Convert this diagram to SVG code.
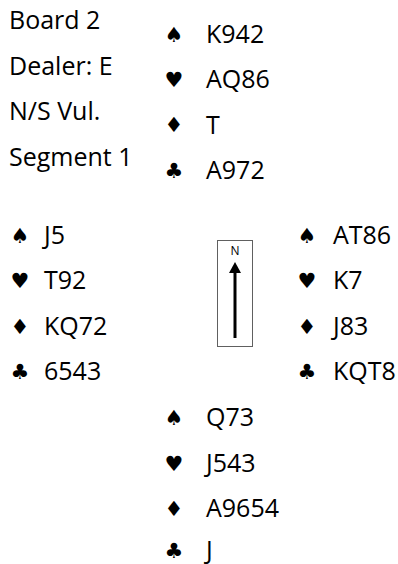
<svg xmlns="http://www.w3.org/2000/svg" width="398" height="564" viewBox="0 0 398 564">
<style>
.t{font-family:"Open Sans","Noto Sans",sans-serif;font-size:25px;fill:#000}
.s{font-family:"DejaVu Sans",sans-serif;font-size:21px;fill:#000;text-anchor:middle}
.n{font-family:"Open Sans","Noto Sans",sans-serif;font-size:12px;fill:#000;text-anchor:middle}
</style>
<rect width="398" height="564" fill="#fff"/>
<g id="header">
<text class="t" x="9" y="29">Board 2</text>
<text class="t" x="9" y="75">Dealer: E</text>
<text class="t" x="9" y="120">N/S Vul.</text>
<text class="t" x="9" y="166">Segment 1</text>
</g>
<g id="north">
<text class="s" x="174" y="42">♠</text><text class="t" x="206" y="43">K942</text>
<text class="s" x="174" y="87">♥</text><text class="t" x="206" y="88">AQ86</text>
<text class="s" x="174" y="132">♦</text><text class="t" x="206" y="134">T</text>
<text class="s" x="174" y="178">♣</text><text class="t" x="206" y="179">A972</text>
</g>
<g id="west">
<text class="s" x="20" y="243">♠</text><text class="t" x="44" y="244">J5</text>
<text class="s" x="20" y="288">♥</text><text class="t" x="44" y="289">T92</text>
<text class="s" x="20" y="334">♦</text><text class="t" x="44" y="335">KQ72</text>
<text class="s" x="20" y="379">♣</text><text class="t" x="44" y="380">6543</text>
</g>
<g id="east">
<text class="s" x="307" y="243">♠</text><text class="t" x="333" y="244">AT86</text>
<text class="s" x="307" y="288">♥</text><text class="t" x="333" y="289">K7</text>
<text class="s" x="307" y="334">♦</text><text class="t" x="333" y="335">J83</text>
<text class="s" x="307" y="379">♣</text><text class="t" x="333" y="380">KQT8</text>
</g>
<g id="south">
<text class="s" x="174" y="425">♠</text><text class="t" x="206" y="426">Q73</text>
<text class="s" x="174" y="471">♥</text><text class="t" x="206" y="472">J543</text>
<text class="s" x="174" y="516">♦</text><text class="t" x="206" y="517">A9654</text>
<text class="s" x="174" y="558">♣</text><text class="t" x="206" y="559">J</text>
</g>
<g id="compass">
<rect x="217.5" y="240.5" width="35" height="106" fill="#fff" stroke="#606060" stroke-width="1"/>
<text class="n" x="235" y="255">N</text>
</g>
<g id="connectors">
<line x1="235" y1="272" x2="235" y2="338" stroke="#000" stroke-width="3"/>
<polygon points="229,273 241,273 235,262" fill="#000"/>
</g>
</svg>
